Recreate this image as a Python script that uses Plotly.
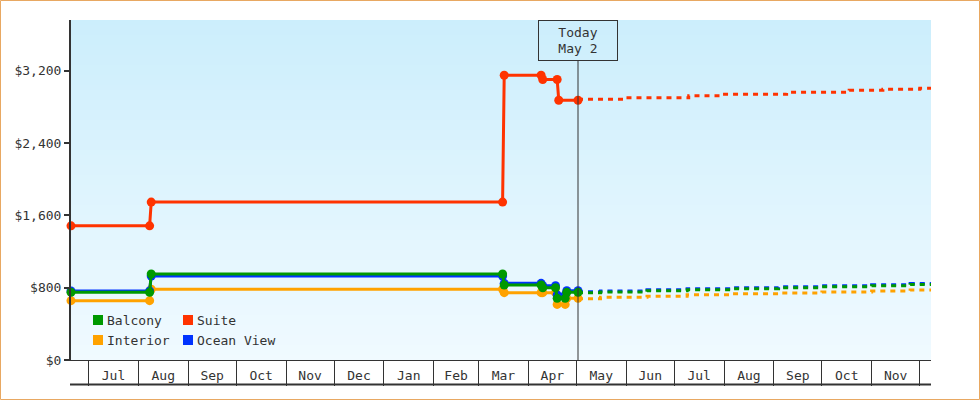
import plotly.graph_objects as go

# ---------------- data ----------------
suite_dates = ["2024-06-20", "2024-08-08", "2024-08-09", "2025-03-16", "2025-03-17",
               "2025-04-09", "2025-04-10", "2025-04-19", "2025-04-20", "2025-05-02"]
suite_vals = [1484, 1484, 1746, 1746, 3149, 3149, 3102, 3102, 2873, 2873]

cabin_dates = ["2024-06-20", "2024-08-08", "2024-08-09", "2025-03-16", "2025-03-17",
               "2025-04-09", "2025-04-10", "2025-04-18", "2025-04-19", "2025-04-24",
               "2025-04-25", "2025-05-02"]
balcony_vals = [748, 748, 951, 951, 829, 829, 799, 799, 682, 682, 748, 748]
ocean_vals = [763, 763, 929, 929, 848, 848, 821, 821, 719, 719, 766, 766]
interior_vals = [656, 656, 782, 782, 745, 745, 745, 745, 615, 615, 682, 682]

fc_dates = ["2025-05-02", "2025-05-16", "2025-06-14", "2025-07-09", "2025-08-05",
            "2025-09-04", "2025-10-01", "2025-11-01", "2025-11-25", "2025-12-08"]
balcony_fc = [745, 751, 766, 777, 788, 799, 810, 821, 836, 836]
ocean_fc = [756, 762, 777, 788, 799, 810, 821, 832, 847, 847]
interior_fc = [678, 693, 704, 722, 733, 741, 752, 763, 774, 774]

suite_fc_dates = ["2025-05-02", "2025-06-01", "2025-07-10", "2025-07-30", "2025-09-09",
                  "2025-10-18", "2025-11-08", "2025-12-01", "2025-12-08"]
suite_fc = [2883, 2900, 2922, 2938, 2960, 2982, 2993, 3004, 3004]

today = "2025-05-02"
today_label = "Today<br>May 2"
legend_names = ["Balcony", "Suite", "Interior", "Ocean View"]
y_ticks = [0, 800, 1600, 2400, 3200]
y_ticktext = ["$0", "$800", "$1,600", "$2,400", "$3,200"]

# ---------------- style ----------------
COLORS = {"Balcony": "#009900", "Suite": "#ff3300", "Interior": "#ffa200", "Ocean View": "#0033ff"}
FONT = "DejaVu Sans Mono, Liberation Mono, monospace"
TXT = "#333333"
W, H = 980, 400
ML, MR, MT, MB = 71, 49, 20, 40
PW, PH = W - ML - MR, H - MT - MB


def px_x(px):
    return (px - ML) / PW


def px_y(py):
    return (H - MB - py) / PH


fig = go.Figure()

series = [
    ("Interior", cabin_dates, interior_vals, fc_dates, interior_fc),
    ("Ocean View", cabin_dates, ocean_vals, fc_dates, ocean_fc),
    ("Balcony", cabin_dates, balcony_vals, fc_dates, balcony_fc),
    ("Suite", suite_dates, suite_vals, suite_fc_dates, suite_fc),
]
for name, d, v, fd, fv in series:
    c = COLORS[name]
    fig.add_trace(go.Scatter(x=fd, y=fv, mode="lines", name=name + " forecast",
                             line=dict(color=c, width=3, dash="5px,5px", shape="hv"),
                             showlegend=False, hoverinfo="skip"))
    fig.add_trace(go.Scatter(x=d, y=v, mode="lines+markers", name=name,
                             line=dict(color=c, width=3),
                             marker=dict(color=c, size=9),
                             cliponaxis=False, showlegend=False))

shapes = []
# gradient background
N = 68
top = (204, 238, 252)
bot = (240, 250, 255)
for i in range(N):
    t = i / (N - 1)
    col = tuple(round(top[k] + (bot[k] - top[k]) * t) for k in range(3))
    shapes.append(dict(type="rect", xref="paper", yref="paper", x0=0, x1=1,
                       y0=1 - (i + 1) / N, y1=1 - i / N, layer="below",
                       line=dict(width=0), fillcolor="rgb(%d,%d,%d)" % col))
# today line
shapes.append(dict(type="line", xref="x", yref="paper", x0=today, x1=today,
                   y0=0, y1=px_y(61), line=dict(color=TXT, width=1)))
# bottom line of the month band
shapes.append(dict(type="line", xref="paper", yref="paper", x0=px_x(70), x1=1,
                   y0=px_y(384.5), y1=px_y(384.5), line=dict(color=TXT, width=2)))
# outer border
shapes.append(dict(type="rect", xref="paper", yref="paper",
                   x0=px_x(0.5), x1=px_x(W - 0.5), y0=px_y(H - 0.5), y1=px_y(0.5),
                   line=dict(color="#e8a862", width=1)))

annotations = [dict(x=today, xref="x", y=1, yref="paper", yanchor="top", xanchor="center",
                    text=today_label, showarrow=False, width=76, height=37,
                    bordercolor=TXT, borderwidth=1, borderpad=1,
                    font=dict(family=FONT, size=13, color=TXT))]

# legend (2 columns)
leg_pos = [(93, 315), (183, 315), (93, 335), (183, 335)]
for name, (lx, ly) in zip(legend_names, leg_pos):
    shapes.append(dict(type="rect", xref="paper", yref="paper",
                       x0=px_x(lx), x1=px_x(lx + 10), y0=px_y(ly + 10), y1=px_y(ly),
                       fillcolor=COLORS[name], line=dict(width=0)))
    annotations.append(dict(x=px_x(lx + 12), xref="paper", y=px_y(ly + 5), yref="paper",
                            xanchor="left", yanchor="middle", text=name, showarrow=False,
                            font=dict(family=FONT, size=13, color=TXT)))

fig.update_layout(
    width=W, height=H,
    margin=dict(l=ML, r=MR, t=MT, b=MB),
    paper_bgcolor="white", plot_bgcolor="rgba(0,0,0,0)",
    font=dict(family=FONT, size=13, color=TXT),
    showlegend=False,
    shapes=shapes, annotations=annotations,
    xaxis=dict(type="date", range=["2024-06-20", "2025-12-08"],
               tick0="2024-07-01", dtick="M1", tickformat="%b", ticklabelmode="period",
               ticks="outside", ticklen=25, tickwidth=1, tickcolor=TXT,
               ticklabelstandoff=-22,
               showline=True, linecolor=TXT, linewidth=1,
               showgrid=False, zeroline=False, automargin=False,
               tickfont=dict(family=FONT, size=13, color=TXT)),
    yaxis=dict(range=[0, 3760], tickmode="array", tickvals=y_ticks, ticktext=y_ticktext,
               ticks="outside", ticklen=5, tickwidth=2, tickcolor=TXT,
               showline=True, linecolor=TXT, linewidth=2,
               showgrid=False, zeroline=False, automargin=False,
               tickfont=dict(family=FONT, size=13, color=TXT)),
)

fig.write_html("out.html", config={"displayModeBar": False},
               post_script="document.body.style.margin='0';")
